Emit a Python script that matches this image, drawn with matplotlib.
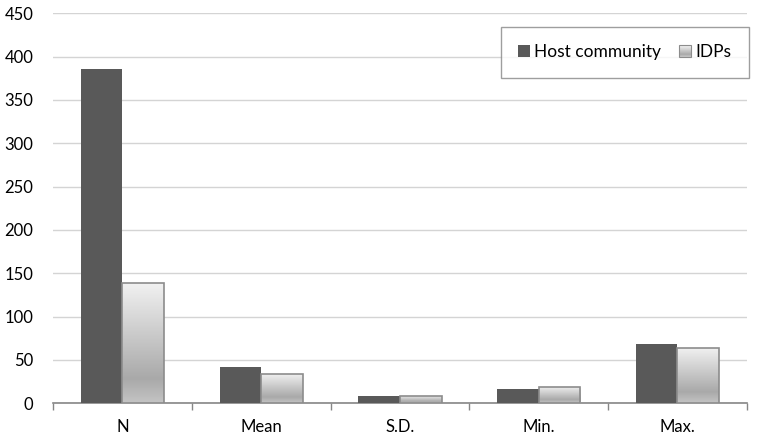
import numpy as np
import matplotlib
matplotlib.use('Agg')
import matplotlib.pyplot as plt
from matplotlib.patches import Rectangle
from matplotlib.legend_handler import HandlerBase
from matplotlib.colors import LinearSegmentedColormap

plt.rcParams['font.family'] = ['Lato', 'DejaVu Sans']

categories = ['N', 'Mean', 'S.D.', 'Min.', 'Max.']
host = [386, 42, 8, 17, 68.5]
idps = [139, 34, 9, 18.5, 63.5]
series_names = ['Host community', 'IDPs']

dark = '#595959'
edge = '#8c8c8c'
grad = LinearSegmentedColormap.from_list(
    'idp', [(0.0, '#f2f2f2'), (0.8, '#a9a9a9'), (1.0, '#c4c4c4')])


class GradientHandler(HandlerBase):
    def create_artists(self, legend, orig_handle, xdescent, ydescent,
                       width, height, fontsize, trans):
        side = height
        x0 = -xdescent + width - side
        y0 = -ydescent
        n = 12
        arts = []
        for i in range(n):
            c = grad(i / (n - 1))
            r = Rectangle((x0, y0 + side * (n - 1 - i) / n), side, side / n,
                          facecolor=c, edgecolor='none', transform=trans)
            arts.append(r)
        arts.append(Rectangle((x0, y0), side, side, facecolor='none',
                              edgecolor=edge, lw=0.8, transform=trans))
        return arts


class SquareHandler(HandlerBase):
    def create_artists(self, legend, orig_handle, xdescent, ydescent,
                       width, height, fontsize, trans):
        side = height
        r = Rectangle((-xdescent + width - side, -ydescent), side, side,
                      facecolor=dark, edgecolor='none', transform=trans)
        return [r]


fig = plt.figure(figsize=(7.59, 4.38), dpi=100)
ax = fig.add_axes([0.0698, 0.0792, 0.9142, 0.8904])

x = np.arange(len(categories))
w = 0.3
ax.bar(x - w / 2, host, w, color=dark, zorder=3)
bars2 = ax.bar(x + w / 2, idps, w, facecolor='none', edgecolor=edge,
               lw=1.2, zorder=4)

gimg = np.linspace(0, 1, 256).reshape(-1, 1)
for b in bars2:
    bx, by = b.get_x(), b.get_y()
    bw, bh = b.get_width(), b.get_height()
    im = ax.imshow(gimg, cmap=grad, aspect='auto', zorder=3,
                   extent=[bx, bx + bw, by, by + bh], origin='upper')
    im.set_clip_path(b)

ax.set_xlim(-0.5, len(categories) - 0.5)
ax.set_ylim(0, 450)
ax.set_yticks(np.arange(0, 451, 50))
ax.yaxis.grid(True, color='#d4d4d4', lw=1.0, zorder=0)
ax.set_axisbelow(True)

ax.set_xticks(x)
ax.set_xticklabels(categories)
ax.set_xticks(np.arange(-0.5, len(categories)), minor=True)
ax.tick_params(axis='x', which='major', length=0, pad=11, labelsize=12)
ax.tick_params(axis='x', which='minor', length=5, color='#868686', width=1)
ax.tick_params(axis='y', length=0, pad=14, labelsize=12)

for s in ['top', 'right', 'left']:
    ax.spines[s].set_visible(False)
ax.spines['bottom'].set_color('#868686')
ax.spines['bottom'].set_linewidth(1.2)

h1 = Rectangle((0, 0), 1, 1)
h2 = Rectangle((0, 0), 1, 1)
leg = ax.legend([h1, h2], series_names, ncol=2,
                handler_map={h1: SquareHandler(), h2: GradientHandler()},
                loc='upper right', bbox_to_anchor=(1.0025, 0.965),
                frameon=True, fancybox=False, fontsize=12.5,
                handlelength=0.7, handleheight=0.7, handletextpad=0.25,
                columnspacing=1.0, borderpad=1.0, borderaxespad=0)
leg.get_frame().set_edgecolor('#868686')
leg.get_frame().set_linewidth(1.0)

fig.savefig('out.png', dpi=100)
